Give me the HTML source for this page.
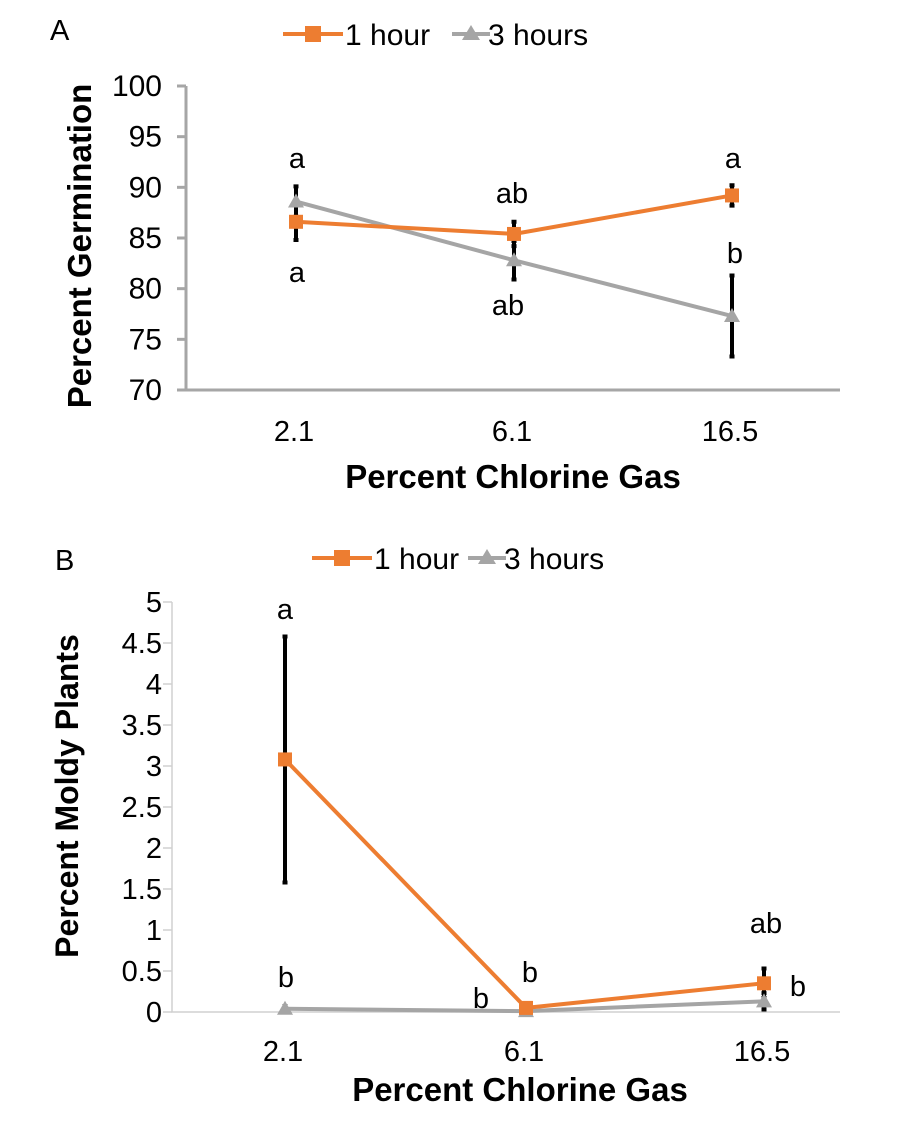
<!DOCTYPE html>
<html><head><meta charset="utf-8"><style>
body{margin:0;background:#fff}
svg{display:block;font-family:"Liberation Sans",Arial,sans-serif}
</style></head><body>
<svg id="c" width="900" height="1124" viewBox="0 0 900 1124" xmlns="http://www.w3.org/2000/svg"></svg>
<script>
const categories = ["2.1","6.1","16.5"];
const aTicks = [70,75,80,85,90,95,100];
const a1h = [86.6,85.4,89.2];
const a1hErr = [1.8,1.2,1.0];
const a3h = [88.6,82.8,77.3];
const a3hErr = [1.5,1.9,4.0];
const bTicks = [0,0.5,1,1.5,2,2.5,3,3.5,4,4.5,5];
const b1h = [3.08,0.05,0.35];
const b1hErr = [1.5,0.03,0.18];
const b3h = [0.04,0.01,0.13];
const b3hErr = [0.03,0.01,0.1];

const NS="http://www.w3.org/2000/svg";
const svg=document.getElementById('c');
function mk(tag,attrs,parent){const e=document.createElementNS(NS,tag);for(const k in attrs)e.setAttribute(k,attrs[k]);(parent||svg).appendChild(e);return e;}
function txt(s,attrs,parent){const e=mk('text',attrs,parent);e.textContent=s;return e;}

function panel(cfg){
  const g=mk('g',{});
  
  
  const y=v=>cfg.y0+(v-cfg.min)/(cfg.max-cfg.min)*(cfg.y1-cfg.y0);
  const xi=i=>cfg.xs[i];
  const ya=mk('line',{x1:cfg.ax,y1:y(cfg.max),x2:cfg.ax,y2:y(cfg.min),stroke:cfg.axc,'stroke-width':cfg.aw},g);
  
  const xa=mk('line',{x1:cfg.ax-cfg.aw/2,y1:y(cfg.min),x2:840,y2:y(cfg.min),stroke:cfg.axc,'stroke-width':cfg.aw},g);
  
  cfg.ticks.forEach(t=>{
    const tk=mk('line',{x1:cfg.ax-9,y1:y(t),x2:cfg.ax,y2:y(t),stroke:cfg.axc,'stroke-width':cfg.aw},g);
    
    const tl=txt(String(t),{x:cfg.ax-cfg.tlg,y:y(t)+10,'font-size':cfg.tfs,'text-anchor':'end',fill:'#000'},g);
    
  });
  categories.forEach((c,i)=>{
    const l=txt(c,{x:xi(i)-2,y:cfg.xly,'font-size':29,'text-anchor':'middle'},g);
    
  });
  const xt=txt('Percent Chlorine Gas',{x:cfg.xtx,y:cfg.xty,'font-size':33,'font-weight':'bold','text-anchor':'middle'},g);
  
  const yt=txt(cfg.ytitle,{x:0,y:0,'font-size':cfg.ytfs,'font-weight':'bold','text-anchor':'middle',transform:`translate(${cfg.ytx},${cfg.yty}) rotate(-90)`},g);
  
  const pl=txt(cfg.label,{x:cfg.plx,y:cfg.ply,'font-size':29},g);
  
  const series=[{v:cfg.s3,e:cfg.e3,c:'#a5a5a5',m:'tri',n:'3-hours'},{v:cfg.s1,e:cfg.e1,c:'#ed7d31',m:'sq',n:'1-hour'}];
  series.forEach(s=>{
    const p=mk('polyline',{points:s.v.map((v,i)=>xi(i)+','+y(v)).join(' '),fill:'none',stroke:s.c,'stroke-width':4},g);
    
  });
  series.forEach(s=>{
    s.v.forEach((v,i)=>{
      const eb=mk('path',{d:`M${xi(i)},${y(v-s.e[i])}V${y(v+s.e[i])}M${xi(i)-2.5},${y(v-s.e[i])}h5M${xi(i)-2.5},${y(v+s.e[i])}h5`,stroke:'#000','stroke-width':4,fill:'none'},g);
      
    });
  });
  series.forEach(s=>{
    s.v.forEach((v,i)=>{
      let m;
      if(s.m==='sq') m=mk('rect',{x:xi(i)-7,y:y(v)-7,width:14,height:14,fill:s.c},g);
      else m=mk('path',{d:`M${xi(i)},${y(v)-8}L${xi(i)+8},${y(v)+6}L${xi(i)-8},${y(v)+6}Z`,fill:s.c},g);
      
    });
  });
  cfg.letters.forEach(L=>{
    const t=txt(L[0],{x:L[1],y:L[2],'font-size':29,'text-anchor':'middle'},g);
    
  });
  const lg=mk('g',{},g);
  
  const L=cfg.leg;
  mk('line',{x1:L.x,y1:L.y,x2:L.x+60,y2:L.y,stroke:'#ed7d31','stroke-width':4},lg);
  mk('rect',{x:L.x+22,y:L.y-8,width:16,height:16,fill:'#ed7d31'},lg);
  const t1=txt('1 hour',{x:L.x+62,y:L.y+11,'font-size':30},lg);
  
  mk('line',{x1:L.x2,y1:L.y,x2:L.x2+38,y2:L.y,stroke:'#a5a5a5','stroke-width':4},lg);
  mk('path',{d:`M${L.x2+19},${L.y-9}l9,15h-18z`,fill:'#a5a5a5'},lg);
  const t2=txt('3 hours',{x:L.x2+36,y:L.y+11,'font-size':30},lg);
  
}

panel({name:'panel-a-germination',min:70,max:100,y0:390,y1:86,ax:186,aw:3,axc:'#a6a6a6',ticks:aTicks,tfs:30,tlg:24,
  xs:[296,514,732],xly:441,xtx:513,xty:488,ytitle:'Percent Germination',ytfs:33,ytx:91,yty:246,label:'A',plx:50,ply:40,
  s1:a1h,e1:a1hErr,s3:a3h,e3:a3hErr,
  letters:[['a',297,168],['a',297,282],['ab',512,203],['ab',508,315],['a',733,168],['b',735,263]],
  leg:{x:283,y:34,x2:452}});
panel({name:'panel-b-moldy-plants',min:0,max:5,y0:1012,y1:602,ax:172,aw:1.5,axc:'#d0d0d0',ticks:bTicks,tfs:29,tlg:10,
  xs:[285,526,764],xly:1061,xtx:520,xty:1101,ytitle:'Percent Moldy Plants',ytfs:32,ytx:78,yty:796,label:'B',plx:55,ply:570,
  s1:b1h,e1:b1hErr,s3:b3h,e3:b3hErr,
  letters:[['a',285,619],['b',286,987],['b',481,1008],['b',530,982],['ab',766,933],['b',798,996]],
  leg:{x:312,y:558,x2:468}});
</script>
</body></html>
